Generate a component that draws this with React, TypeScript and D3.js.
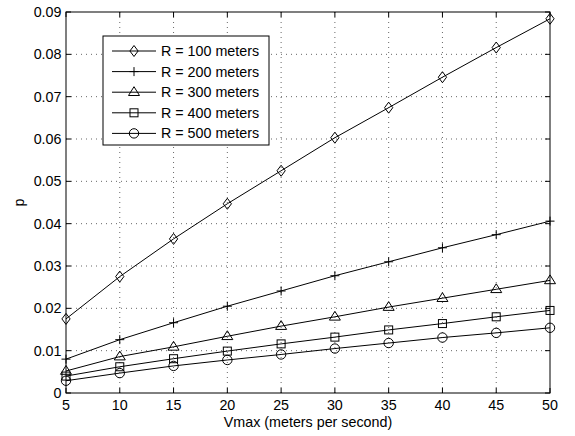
import React from "react";
import * as d3 from "d3";

const vmax = [5, 10, 15, 20, 25, 30, 35, 40, 45, 50];
const r100 = [0.0175, 0.0275, 0.0364, 0.0447, 0.0525, 0.0603, 0.0674, 0.0746, 0.0816, 0.0884];
const r200 = [0.0080, 0.0126, 0.0166, 0.0205, 0.0241, 0.0277, 0.0310, 0.0343, 0.0374, 0.0406];
const r300 = [0.0052, 0.0086, 0.0109, 0.0134, 0.0158, 0.0180, 0.0203, 0.0224, 0.0245, 0.0266];
const r400 = [0.0040, 0.0062, 0.0081, 0.0099, 0.0116, 0.0132, 0.0149, 0.0164, 0.0180, 0.0195];
const r500 = [0.0029, 0.0047, 0.0064, 0.0078, 0.0091, 0.0105, 0.0118, 0.0131, 0.0142, 0.0154];
const seriesNames = ["R = 100 meters", "R = 200 meters", "R = 300 meters", "R = 400 meters", "R = 500 meters"];
const seriesValues = [r100, r200, r300, r400, r500];
const markers = ["diamond", "plus", "triangle", "square", "circle"];
const xTicks = [5, 10, 15, 20, 25, 30, 35, 40, 45, 50];
const yTicks = [0, 0.01, 0.02, 0.03, 0.04, 0.05, 0.06, 0.07, 0.08, 0.09];

const L = 66, R = 550, T = 12, B = 393;
const FONT = "'Liberation Sans', Arial, Helvetica, sans-serif";
const FS = 14.3;

function Marker({ type, x, y }: { type: string; x: number; y: number }) {
  const s = { fill: "none", stroke: "#000", strokeWidth: 1 } as any;
  if (type === "diamond") {
    const r = 5.5;
    return <path d={`M${x},${y - r}L${x + r * 0.75},${y}L${x},${y + r}L${x - r * 0.75},${y}Z`} {...s} />;
  }
  if (type === "plus") {
    const r = 4.5;
    return <path d={`M${x - r},${y}H${x + r}M${x},${y - r}V${y + r}`} {...s} />;
  }
  if (type === "triangle") {
    const r = 5.5;
    return <path d={`M${x},${y - r}L${x + r},${y + r * 0.6}L${x - r},${y + r * 0.6}Z`} {...s} />;
  }
  if (type === "square") {
    const r = 4;
    return <rect x={x - r} y={y - r} width={2 * r} height={2 * r} {...s} />;
  }
  return <circle cx={x} cy={y} r={4.7} {...s} />;
}

export default function App() {
  const x = d3.scaleLinear().domain([5, 50]).range([L, R]);
  const y = d3.scaleLinear().domain([0, 0.09]).range([B, T]);
  const line = d3.line<number>().x((_, i) => x(vmax[i])).y((d) => y(d));
  const fmt = (v: number) => (v === 0 ? "0" : d3.format(".2f")(v));

  const legX = 103, legY = 36, legW = 166, legH = 109;
  const rowH = 20.6;

  return (
    <svg width={575} height={436} style={{ position: "absolute", left: 0, top: 0, background: "#fff" }} fontFamily={FONT}>
      <rect x={0} y={0} width={575} height={436} fill="#fff" />
      {/* grid */}
      {xTicks.slice(1, -1).map((t) => (
        <line key={"gx" + t} x1={x(t)} x2={x(t)} y1={T} y2={B} stroke="#000" strokeWidth={0.6} strokeDasharray="1,4" />
      ))}
      {yTicks.slice(1, -1).map((t) => (
        <line key={"gy" + t} x1={L} x2={R} y1={y(t)} y2={y(t)} stroke="#000" strokeWidth={0.6} strokeDasharray="1,4" />
      ))}
      {/* ticks */}
      {xTicks.map((t) => (
        <g key={"tx" + t}>
          <line x1={x(t)} x2={x(t)} y1={B} y2={B - 5} stroke="#000" />
          <line x1={x(t)} x2={x(t)} y1={T} y2={T + 5} stroke="#000" />
          <text x={x(t)} y={B + 17} textAnchor="middle" fontSize={FS}>{t}</text>
        </g>
      ))}
      {yTicks.map((t) => (
        <g key={"ty" + t}>
          <line x1={L} x2={L + 5} y1={y(t)} y2={y(t)} stroke="#000" />
          <line x1={R} x2={R - 5} y1={y(t)} y2={y(t)} stroke="#000" />
          <text x={L - 4.5} y={y(t) + 5} textAnchor="end" fontSize={FS}>{fmt(t)}</text>
        </g>
      ))}
      {/* series */}
      {seriesValues.map((vals, si) => (
        <g key={"s" + si}>
          <path d={line(vals) || ""} fill="none" stroke="#000" strokeWidth={1} />
          {vals.map((v, i) => (
            <Marker key={i} type={markers[si]} x={x(vmax[i])} y={y(v)} />
          ))}
        </g>
      ))}
      {/* frame */}
      <rect x={L} y={T} width={R - L} height={B - T} fill="none" stroke="#000" strokeWidth={1} />
      {/* axis labels */}
      <text x={308} y={427} textAnchor="middle" fontSize={FS}>Vmax (meters per second)</text>
      <text transform={`translate(24,${(T + B) / 2}) rotate(-90)`} textAnchor="middle" fontSize={FS}>p</text>
      {/* legend */}
      <rect x={legX} y={legY} width={legW} height={legH} fill="#fff" stroke="#000" strokeWidth={1} />
      {seriesNames.map((name, i) => {
        const cy = legY + 15 + i * rowH;
        return (
          <g key={"l" + i}>
            <line x1={legX + 9} x2={legX + 53} y1={cy} y2={cy} stroke="#000" />
            <Marker type={markers[i]} x={legX + 31} y={cy} />
            <text x={legX + 58} y={cy + 5} fontSize={FS}>{name}</text>
          </g>
        );
      })}
    </svg>
  );
}
